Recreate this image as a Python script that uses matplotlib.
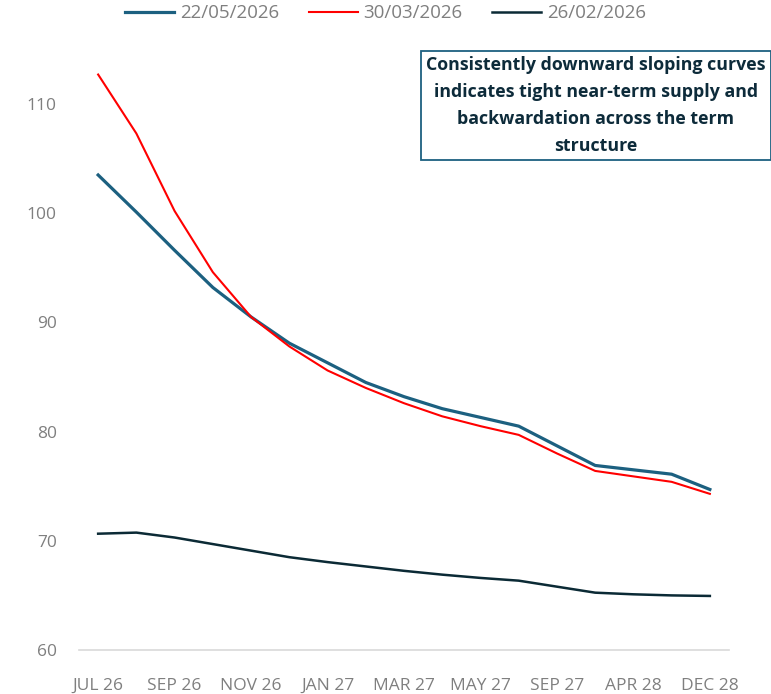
import matplotlib.pyplot as plt
from matplotlib.lines import Line2D

# Contract months along the curve
months = ['JUL 26', 'AUG 26', 'SEP 26', 'OCT 26', 'NOV 26', 'DEC 26',
          'JAN 27', 'FEB 27', 'MAR 27', 'APR 27', 'MAY 27', 'JUN 27',
          'SEP 27', 'DEC 27', 'APR 28', 'JUN 28', 'DEC 28']
shown_labels = ['JUL 26', 'SEP 26', 'NOV 26', 'JAN 27', 'MAR 27',
                'MAY 27', 'SEP 27', 'APR 28', 'DEC 28']

# Curve values for each snapshot date
curve_2205 = [103.5, 100.1, 96.6, 93.2, 90.5, 88.1, 86.3, 84.5, 83.2,
              82.1, 81.3, 80.5, 78.7, 76.9, 76.5, 76.1, 74.7]
curve_3003 = [112.7, 107.3, 100.2, 94.6, 90.5, 87.8, 85.6, 84.0, 82.6,
              81.4, 80.5, 79.7, 78.0, 76.4, 75.9, 75.4, 74.3]
curve_2602 = [70.65, 70.75, 70.3, 69.7, 69.1, 68.5, 68.05, 67.65, 67.25,
              66.9, 66.6, 66.35, 65.8, 65.25, 65.1, 65.0, 64.95]

series_names = ['22/05/2026', '30/03/2026', '26/02/2026']
colors = ['#1c6080', '#ff0000', '#0b2a35']
widths = [2.3, 1.5, 1.8]

plt.rcParams['font.family'] = ['Open Sans', 'DejaVu Sans']

fig = plt.figure(figsize=(7.71, 6.94), dpi=100)
ax = fig.add_axes([0.1025, 0.0634, 0.843, 0.8654])

x = list(range(len(months)))
for vals, name, c, lw in zip([curve_2205, curve_3003, curve_2602],
                             series_names, colors, widths):
    ax.plot(x, vals, color=c, lw=lw, label=name, solid_joinstyle='round')

ax.set_xlim(-0.5, len(months) - 0.5)
ax.set_ylim(60, 115)
ax.set_yticks([60, 70, 80, 90, 100, 110])
ticks = [months.index(m) for m in shown_labels]
ax.set_xticks(ticks)
ax.set_xticklabels(shown_labels)
ax.tick_params(axis='both', length=0, colors='#7f7f7f', labelsize=12.5)
ax.tick_params(axis='x', pad=20)
ax.tick_params(axis='y', pad=16)

for s in ['top', 'right', 'left']:
    ax.spines[s].set_visible(False)
ax.spines['bottom'].set_color('#d9d9d9')
ax.spines['bottom'].set_linewidth(1.2)

handles = [Line2D([0], [0], color=c, lw=lw) for c, lw in zip(colors, widths)]
leg = fig.legend(handles, series_names, loc='upper center',
                 bbox_to_anchor=(0.5, 1.018), ncol=3, frameon=False,
                 fontsize=13.5, handlelength=2.6, handletextpad=0.3,
                 columnspacing=1.6)
for t in leg.get_texts():
    t.set_color('#7f7f7f')

ax.text(0.773, 0.848,
        'Consistently downward sloping curves\nindicates tight near-term supply and\n'
        'backwardation across the term\nstructure',
        transform=fig.transFigure, ha='center', va='center', fontsize=12.8,
        fontweight='bold', color='#0d2b3a', linespacing=1.64,
        bbox=dict(boxstyle='square,pad=0.3', facecolor='white',
                  edgecolor='#1c6080', linewidth=1.3))

fig.savefig('out.png', dpi=100)
